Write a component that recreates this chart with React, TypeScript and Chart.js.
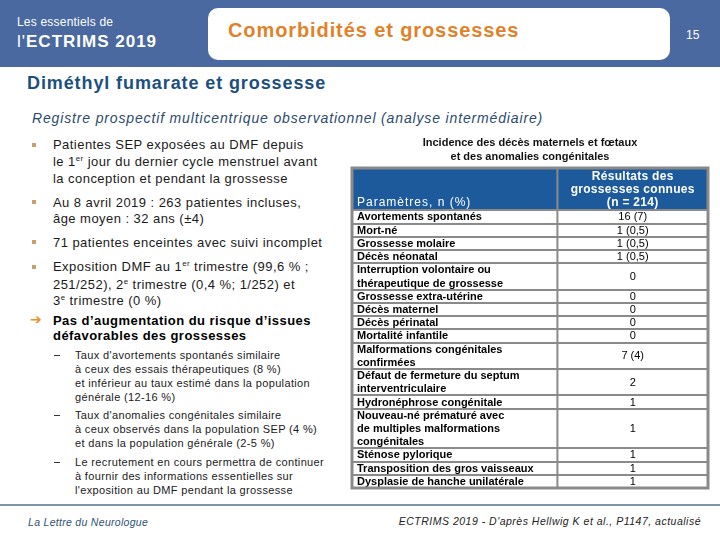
import React, { useEffect, useRef } from "react";
import { Chart, registerables } from "chart.js";

Chart.register(...registerables);

// ---------- Data ----------
const tableTitle = ["Incidence des décès maternels et fœtaux", "et des anomalies congénitales"];
const headerParam = "Paramètres, n (%)";
const headerResult = ["Résultats des", "grossesses connues"];
const totalKnown = 214;

const rowLabels: string[][] = [
  ["Avortements spontanés"],
  ["Mort-né"],
  ["Grossesse molaire"],
  ["Décès néonatal"],
  ["Interruption volontaire ou", "thérapeutique de grossesse"],
  ["Grossesse extra-utérine"],
  ["Décès maternel"],
  ["Décès périnatal"],
  ["Mortalité infantile"],
  ["Malformations congénitales", "confirmées"],
  ["Défaut de fermeture du septum", "interventriculaire"],
  ["Hydronéphrose congénitale"],
  ["Nouveau-né prématuré avec", "de multiples malformations", "congénitales"],
  ["Sténose pylorique"],
  ["Transposition des gros vaisseaux"],
  ["Dysplasie de hanche unilatérale"],
];
const rowCounts = [16, 1, 1, 1, 0, 0, 0, 0, 0, 7, 2, 1, 1, 1, 1, 1];
const rowPercents: (number | null)[] = [7, 0.5, 0.5, 0.5, null, null, null, null, null, 4, null, null, null, null, null, null];

// ---------- Layout constants ----------
const HEADER_UNITS = 3.2;
const SPLIT = 0.577;
const FONT = '"Liberation Sans", Arial, Helvetica, sans-serif';
const HEADER_BLUE = "#1d5a9c";
const GRID = "#8a8a8a";

const rowStarts: number[] = [];
{
  let cum = HEADER_UNITS;
  rowLabels.forEach((l) => {
    rowStarts.push(cum);
    cum += l.length;
  });
}
const TOTAL_UNITS = HEADER_UNITS + rowLabels.reduce((s, l) => s + l.length, 0);

const fmtValue = (i: number) =>
  rowPercents[i] == null ? `${rowCounts[i]}` : `${rowCounts[i]} (${String(rowPercents[i]).replace(".", ",")})`;

const tablePlugin = {
  id: "tableCells",
  afterDraw(chart: any) {
    const { ctx } = chart;
    const x = chart.scales.x;
    const y = chart.scales.y;
    const xl = x.getPixelForValue(0);
    const xs = x.getPixelForValue(SPLIT);
    const xr = x.getPixelForValue(1);
    const yt = y.getPixelForValue(0);
    const yh = y.getPixelForValue(HEADER_UNITS);
    const yb = y.getPixelForValue(TOTAL_UNITS);
    ctx.save();
    // header background
    ctx.fillStyle = HEADER_BLUE;
    ctx.fillRect(xl, yt, xr - xl, yh - yt);
    // body background
    ctx.fillStyle = "#ffffff";
    ctx.fillRect(xl, yh, xr - xl, yb - yh);

    // header texts
    ctx.fillStyle = "#ffffff";
    ctx.textBaseline = "middle";
    ctx.textAlign = "center";
    const xc = x.getPixelForValue((SPLIT + 1) / 2);
    ctx.font = `bold 12px ${FONT}`;
    (ctx as any).letterSpacing = "0.3px";
    const hlines = [...headerResult, `(n = ${totalKnown})`];
    hlines.forEach((t, k) => {
      ctx.fillText(t, xc, y.getPixelForValue(0.6 + k) + 0.5);
    });
    ctx.textAlign = "left";
    ctx.font = `12px ${FONT}`;
    (ctx as any).letterSpacing = "1px";
    ctx.fillText(headerParam, xl + 5, y.getPixelForValue(2.6) + 0.5);
    (ctx as any).letterSpacing = "0px";

    // body texts
    const meta = chart.getDatasetMeta(0);
    rowLabels.forEach((lines, i) => {
      ctx.fillStyle = "#000000";
      ctx.textAlign = "left";
      ctx.font = `bold 11px ${FONT}`;
      lines.forEach((t, k) => {
        ctx.fillText(t, xl + 5, y.getPixelForValue(rowStarts[i] + k + 0.5) + 0.5);
      });
      const pt = meta.data[i];
      ctx.textAlign = "center";
      ctx.font = `11px ${FONT}`;
      ctx.fillText(fmtValue(i), pt.x, pt.y + 0.5);
    });

    // grid
    ctx.strokeStyle = GRID;
    ctx.lineWidth = 2;
    ctx.beginPath();
    rowStarts.forEach((s) => {
      const py = Math.round(y.getPixelForValue(s));
      ctx.moveTo(xl, py);
      ctx.lineTo(xr, py);
    });
    ctx.moveTo(xs, yt);
    ctx.lineTo(xs, yb);
    ctx.stroke();
    ctx.lineWidth = 3;
    ctx.strokeRect(xl, yt, xr - xl, yb - yt);
    ctx.restore();
  },
};

function T(props: { x: number; cy: number; size: number; right?: boolean; style?: React.CSSProperties; children: React.ReactNode }) {
  const lh = Math.round(props.size * 1.3);
  const pos: React.CSSProperties = props.right ? { right: 720 - props.x } : { left: props.x };
  return (
    <div
      style={{
        position: "absolute",
        ...pos,
        top: props.cy - lh / 2,
        fontSize: props.size,
        lineHeight: lh + "px",
        whiteSpace: "nowrap",
        ...props.style,
      }}
    >
      {props.children}
    </div>
  );
}

const Sup = ({ children }: { children: React.ReactNode }) => (
  <span style={{ fontSize: "0.6em", verticalAlign: "super", lineHeight: 0 }}>{children}</span>
);

const Bullet = ({ cy }: { cy: number }) => (
  <div style={{ position: "absolute", left: 32, top: cy - 2, width: 4, height: 4, background: "#c9a06a" }} />
);

const Dash = ({ cy }: { cy: number }) => (
  <div style={{ position: "absolute", left: 54, top: cy, width: 6, height: 1, background: "#333" }} />
);

export default function App() {
  const canvasRef = useRef<HTMLCanvasElement>(null);

  useEffect(() => {
    document.body.style.margin = "0";
    const chart = new Chart(canvasRef.current as HTMLCanvasElement, {
      type: "scatter",
      data: {
        datasets: [
          {
            data: rowLabels.map((l, i) => ({ x: (SPLIT + 1) / 2, y: rowStarts[i] + l.length / 2 })),
            pointRadius: 0,
            pointHoverRadius: 0,
          },
        ],
      },
      options: {
        animation: false,
        responsive: false,
        devicePixelRatio: 1,
        events: [],
        layout: { padding: { left: 12, right: 12, top: 0, bottom: 10 } },
        scales: {
          x: { type: "linear", min: 0, max: 1, display: false },
          y: { type: "linear", min: 0, max: TOTAL_UNITS, reverse: true, display: false },
        },
        plugins: {
          legend: { display: false },
          tooltip: { enabled: false },
          title: {
            display: true,
            text: tableTitle,
            color: "#111111",
            font: { family: FONT, size: 11, weight: "bold", lineHeight: 14 / 11 },
            padding: { top: 6, bottom: 4 },
          },
        },
      },
      plugins: [tablePlugin],
    } as any);
    return () => chart.destroy();
  }, []);

  const body: React.CSSProperties = { color: "#1a1a1a", letterSpacing: "0.45px" };
  const sub: React.CSSProperties = { color: "#1a1a1a", letterSpacing: "0.35px" };

  return (
    <div
      style={{
        position: "absolute",
        left: 0,
        top: 0,
        width: 720,
        height: 540,
        overflow: "hidden",
        background: "#ffffff",
        fontFamily: FONT,
      }}
    >
      {/* header band */}
      <div style={{ position: "absolute", left: 0, top: 0, width: 720, height: 67, background: "#4a69a1" }} />
      <div
        style={{
          position: "absolute",
          left: 208,
          top: 8,
          width: 462,
          height: 52,
          background: "#ffffff",
          borderRadius: 10,
        }}
      />
      <T x={17} cy={22} size={12} style={{ color: "#ffffff", letterSpacing: "0.2px" }}>
        Les essentiels de
      </T>
      <T x={17} cy={42} size={17} style={{ color: "#ffffff", letterSpacing: "1px" }}>
        <span style={{ fontWeight: 300 }}>l'</span>
        <b>ECTRIMS 2019</b>
      </T>
      <T x={228} cy={30} size={20} style={{ color: "#e0822a", fontWeight: "bold", letterSpacing: "0.9px" }}>
        Comorbidités et grossesses
      </T>
      <T x={686} cy={35} size={12} style={{ color: "#ffffff" }}>
        15
      </T>

      {/* section title */}
      <T x={27} cy={83} size={18} style={{ color: "#1b4f80", fontWeight: "bold", letterSpacing: "0.9px" }}>
        Diméthyl fumarate et grossesse
      </T>
      <T x={32} cy={118} size={14} style={{ color: "#2b4b6e", fontStyle: "italic", letterSpacing: "0.85px" }}>
        Registre prospectif multicentrique observationnel (analyse intermédiaire)
      </T>

      {/* bullets */}
      <Bullet cy={145} />
      <T x={53} cy={144} size={13} style={body}>Patientes SEP exposées au DMF depuis</T>
      <T x={53} cy={161} size={13} style={body}>
        le 1<Sup>er</Sup> jour du dernier cycle menstruel avant
      </T>
      <T x={53} cy={178} size={13} style={body}>la conception et pendant la grossesse</T>

      <Bullet cy={202} />
      <T x={53} cy={202} size={13} style={body}>Au 8 avril 2019 : 263 patientes incluses,</T>
      <T x={53} cy={218} size={13} style={body}>âge moyen : 32 ans (±4)</T>

      <Bullet cy={242} />
      <T x={53} cy={242} size={13} style={body}>71 patientes enceintes avec suivi incomplet</T>

      <Bullet cy={267} />
      <T x={53} cy={266} size={13} style={body}>
        Exposition DMF au 1<Sup>er</Sup> trimestre (99,6 % ;
      </T>
      <T x={53} cy={284} size={13} style={body}>
        251/252), 2<Sup>e</Sup> trimestre (0,4 %; 1/252) et
      </T>
      <T x={53} cy={300} size={13} style={body}>
        3<Sup>e</Sup> trimestre (0 %)
      </T>

      <T x={30} cy={319} size={14} style={{ color: "#e8902a", fontFamily: '"DejaVu Sans", sans-serif', fontWeight: "bold" }}>
        ➔
      </T>
      <T x={53} cy={320} size={13} style={{ color: "#000", fontWeight: "bold", letterSpacing: "0.45px" }}>
        Pas d’augmentation du risque d’issues
      </T>
      <T x={53} cy={335} size={13} style={{ color: "#000", fontWeight: "bold", letterSpacing: "0.45px" }}>
        défavorables des grossesses
      </T>

      <Dash cy={355} />
      <T x={75} cy={355} size={11} style={sub}>Taux d'avortements spontanés similaire</T>
      <T x={75} cy={369} size={11} style={sub}>à ceux des essais thérapeutiques (8 %)</T>
      <T x={75} cy={383} size={11} style={sub}>et inférieur au taux estimé dans la population</T>
      <T x={75} cy={397} size={11} style={sub}>générale (12-16 %)</T>

      <Dash cy={415} />
      <T x={75} cy={415} size={11} style={sub}>Taux d'anomalies congénitales similaire</T>
      <T x={75} cy={429} size={11} style={sub}>à ceux observés dans la population SEP (4 %)</T>
      <T x={75} cy={443} size={11} style={sub}>et dans la population générale (2-5 %)</T>

      <Dash cy={462} />
      <T x={75} cy={462} size={11} style={sub}>Le recrutement en cours permettra de continuer</T>
      <T x={75} cy={476} size={11} style={sub}>à fournir des informations essentielles sur</T>
      <T x={75} cy={490} size={11} style={sub}>l'exposition au DMF pendant la grossesse</T>

      {/* table chart */}
      <canvas
        ref={canvasRef}
        width={380}
        height={368}
        style={{ position: "absolute", left: 340, top: 130, width: 380, height: 368 }}
      />

      {/* footer */}
      <div style={{ position: "absolute", left: 0, top: 504, width: 720, height: 1.5, background: "#7f95a8" }} />
      <T x={28} cy={522} size={10.5} style={{ color: "#2f5275", fontStyle: "italic", letterSpacing: "0.3px" }}>
        La Lettre du Neurologue
      </T>
      <T x={701} cy={521} size={10.5} right style={{ color: "#222", fontStyle: "italic", letterSpacing: "0.5px" }}>
        ECTRIMS 2019 - D'après Hellwig K et al., P1147, actualisé
      </T>
    </div>
  );
}
